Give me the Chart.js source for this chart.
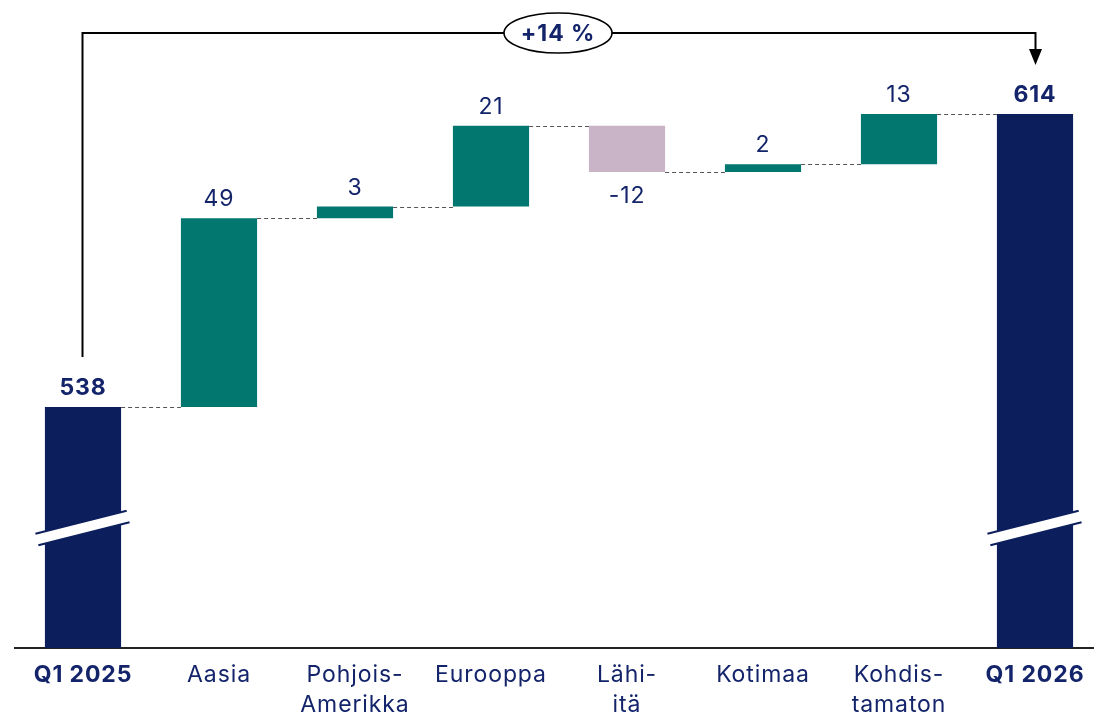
<!DOCTYPE html>
<html>
<head>
<meta charset="utf-8">
<script src="https://cdn.jsdelivr.net/npm/chart.js@4"></script>
<style>
  html, body { margin: 0; padding: 0; background: #fff; overflow: hidden; }
  #wrap { position: relative; width: 1110px; height: 718px; }
</style>
</head>
<body>
<div id="wrap"><canvas id="c"></canvas></div>
<script>
// ---- data ----
const categories = ['Q1 2025', 'Aasia', ['Pohjois-', 'Amerikka'], 'Eurooppa', ['Lähi-', 'itä'], 'Kotimaa', ['Kohdis-', 'tamaton'], 'Q1 2026'];
const startValue = 538;
const changes = [49, 3, 21, -12, 2, 13];
const endValue = 614;
const changeLabel = '+14 %';
const axisMin = 475.5;
const axisMax = 643.6;

// ---- colours ----
const NAVY = '#0c1f5c';
const TEAL = '#02776f';
const MAUVE = '#c9b3c7';
const TEXT = '#13246a';

// build floating bars
const floating = [[axisMin, startValue]];
const colors = [NAVY];
const labels = [String(startValue)];
let run = startValue;
changes.forEach(d => {
  floating.push([run, run + d]);
  colors.push(d >= 0 ? TEAL : MAUVE);
  labels.push(String(d));
  run += d;
});
floating.push([axisMin, endValue]);
colors.push(NAVY);
labels.push(String(endValue));
const totalIdx = [0, categories.length - 1];

const FONT = 'Inter, "Noto Sans", sans-serif';
const SPACING = '0.9px';

const spacingPlugin = {
  id: 'spacing',
  beforeInit(chart) { chart.ctx.letterSpacing = SPACING; },
  beforeDraw(chart) { chart.ctx.letterSpacing = SPACING; }
};

const overlay = {
  id: 'overlay',
  afterDatasetsDraw(chart) {
    const ctx = chart.ctx;
    const meta = chart.getDatasetMeta(0);
    const y = chart.scales.y;
    const ca = chart.chartArea;
    ctx.save();
    ctx.letterSpacing = SPACING;

    // connectors
    ctx.strokeStyle = '#555';
    ctx.lineWidth = 1.2;
    ctx.setLineDash([4, 3]);
    for (let i = 0; i < meta.data.length - 1; i++) {
      const a = meta.data[i], b = meta.data[i + 1];
      const lvl = floating[i][1];
      const py = Math.round(y.getPixelForValue(lvl)) + 0.5;
      ctx.beginPath();
      ctx.moveTo(a.x + a.width / 2, py);
      ctx.lineTo(b.x - b.width / 2, py);
      ctx.stroke();
    }
    ctx.setLineDash([]);

    // value labels
    ctx.textAlign = 'center';
    ctx.textBaseline = 'middle';
    ctx.fillStyle = TEXT;
    meta.data.forEach((bar, i) => {
      const isTotal = totalIdx.includes(i);
      ctx.font = isTotal ? ('bold 23px ' + FONT) : ('23px ' + FONT);
      const [s, e] = floating[i];
      let py;
      if (isTotal || e >= s) {
        py = y.getPixelForValue(Math.max(s, e)) - 19;
      } else {
        py = y.getPixelForValue(Math.min(s, e)) + 24;
      }
      ctx.fillText(labels[i], bar.x, py);
    });

    // axis break marks on total bars
    totalIdx.forEach(i => {
      const bar = meta.data[i];
      const cy = ca.bottom - 120;
      const x1 = bar.x - bar.width / 2 - 8, x2 = bar.x + bar.width / 2 + 7;
      const dy = 11.5;
      ctx.lineCap = 'butt';
      ctx.strokeStyle = NAVY;
      ctx.lineWidth = 14;
      ctx.beginPath(); ctx.moveTo(x1, cy + dy); ctx.lineTo(x2, cy - dy); ctx.stroke();
      ctx.strokeStyle = '#fff';
      ctx.lineWidth = 10;
      ctx.beginPath(); ctx.moveTo(x1 - 2, cy + dy + 0.5); ctx.lineTo(x2 + 2, cy - dy - 0.5); ctx.stroke();
    });

    // bracket with arrow
    const b0 = meta.data[0], b1 = meta.data[meta.data.length - 1];
    const topY = 33;
    const leftX = Math.round(b0.x) - 0.5;
    const rightX = Math.round(b1.x) + 0.5;
    ctx.strokeStyle = '#000';
    ctx.lineWidth = 2;
    ctx.beginPath();
    ctx.moveTo(leftX, y.getPixelForValue(startValue) - 50);
    ctx.lineTo(leftX, topY);
    ctx.lineTo(rightX, topY);
    ctx.lineTo(rightX, 50);
    ctx.stroke();
    ctx.fillStyle = '#000';
    ctx.beginPath();
    ctx.moveTo(rightX - 6.5, 49);
    ctx.lineTo(rightX + 6.5, 49);
    ctx.lineTo(rightX, 65);
    ctx.closePath();
    ctx.fill();

    // bubble
    const bx = 558, by = 33;
    ctx.beginPath();
    ctx.ellipse(bx, by, 54, 20, 0, 0, Math.PI * 2);
    ctx.fillStyle = '#fff';
    ctx.fill();
    ctx.lineWidth = 1.6;
    ctx.strokeStyle = '#000';
    ctx.stroke();
    ctx.fillStyle = TEXT;
    ctx.font = 'bold 23px ' + FONT;
    ctx.fillText(changeLabel, bx, by + 1);

    ctx.restore();
  }
};

new Chart(document.getElementById('c'), {
  type: 'bar',
  data: {
    labels: categories,
    datasets: [{
      data: floating,
      backgroundColor: colors,
      borderWidth: 0,
      barPercentage: 0.56,
      categoryPercentage: 1.0,
      borderSkipped: false
    }]
  },
  options: {
    responsive: true,
    maintainAspectRatio: false,
    animation: false,
    layout: { padding: { left: 15, right: 7, top: 0, bottom: 0 } },
    plugins: { legend: { display: false }, tooltip: { enabled: false } },
    scales: {
      x: {
        grid: { display: false, drawTicks: false },
        border: { display: true, color: '#222', width: 2 },
        ticks: {
          color: TEXT,
          padding: 12,
          maxRotation: 0,
          autoSkip: false,
          font: (c) => {
            const bold = (c.index === 0 || c.index === categories.length - 1);
            return {
              family: FONT,
              size: 23,
              lineHeight: 1.3,
              weight: bold ? 'bold' : 'normal'
            };
          }
        },
        afterFit(scale) { scale.height = 70; }
      },
      y: {
        display: false,
        min: axisMin,
        max: axisMax
      }
    }
  },
  plugins: [spacingPlugin, overlay]
});
</script>
</body>
</html>
